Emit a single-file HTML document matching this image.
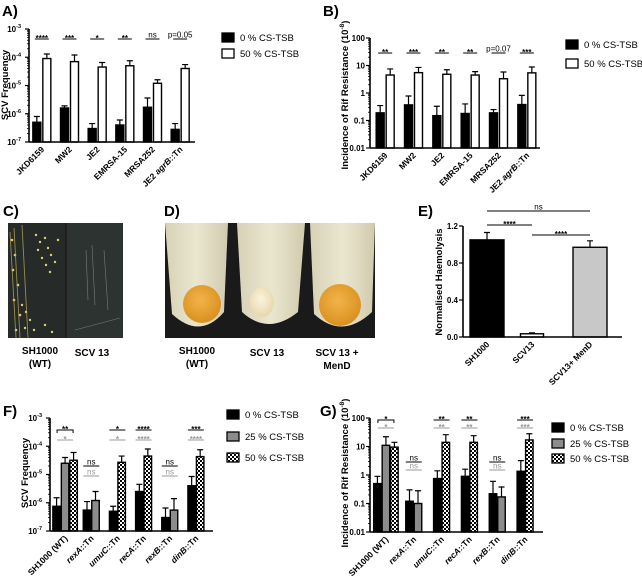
<!DOCTYPE html>
<html><head><meta charset="utf-8">
<style>
html,body{margin:0;padding:0;background:#fff;}
svg{display:block;font-family:"Liberation Sans",Arial,sans-serif;}
.t{font-weight:bold;}
</style></head>
<body>
<svg id="fig" width="642" height="578" viewBox="0 0 642 578" xmlns="http://www.w3.org/2000/svg">
<defs>
<pattern id="chk" width="4" height="4" patternUnits="userSpaceOnUse">
<rect width="4" height="4" fill="#fff"/><rect width="2" height="2" fill="#000"/><rect x="2" y="2" width="2" height="2" fill="#000"/>
</pattern>
<radialGradient id="pel" cx="0.45" cy="0.4" r="0.6"><stop offset="0" stop-color="#f3b34a"/><stop offset="1" stop-color="#d9911f"/></radialGradient>
<radialGradient id="pelw" cx="0.45" cy="0.4" r="0.6"><stop offset="0" stop-color="#fbf3dc"/><stop offset="1" stop-color="#e8d7ad"/></radialGradient>
<linearGradient id="tube" x1="0" x2="1"><stop offset="0" stop-color="#d6d1b6"/><stop offset="0.5" stop-color="#ebe7cf"/><stop offset="1" stop-color="#d0caae"/></linearGradient>
</defs>

<text x="2" y="16" font-size="15" class="t">A)</text>
<text x="323" y="16" font-size="15" class="t">B)</text>
<text x="3" y="216" font-size="15" class="t">C)</text>
<text x="164" y="216" font-size="15" class="t">D)</text>
<text x="418" y="216" font-size="15" class="t">E)</text>
<text x="3" y="416" font-size="15" class="t">F)</text>
<text x="320" y="416" font-size="15" class="t">G)</text>

<g>
<rect x="8" y="223" width="115" height="115" fill="#262b29"/>
<rect x="66" y="223" width="57" height="115" fill="#2d3330"/>
<line x1="66" y1="223" x2="66" y2="338" stroke="#111" stroke-width="1"/>
<g fill="#e3cf72">
<circle cx="12" cy="240" r="1.3"/><circle cx="15" cy="255" r="1.3"/><circle cx="13" cy="270" r="1.3"/><circle cx="18" cy="285" r="1.3"/><circle cx="14" cy="300" r="1.3"/><circle cx="20" cy="315" r="1.3"/><circle cx="16" cy="330" r="1.3"/>
<circle cx="36" cy="235" r="1.2"/><circle cx="40" cy="242" r="1.2"/><circle cx="45" cy="238" r="1.2"/><circle cx="38" cy="250" r="1.2"/><circle cx="48" cy="248" r="1.2"/><circle cx="42" cy="258" r="1.2"/><circle cx="51" cy="255" r="1.2"/><circle cx="46" cy="265" r="1.2"/><circle cx="55" cy="262" r="1.2"/><circle cx="50" cy="272" r="1.2"/><circle cx="58" cy="240" r="1.2"/>
<circle cx="22" cy="305" r="1.2"/><circle cx="26" cy="312" r="1.2"/><circle cx="30" cy="320" r="1.2"/><circle cx="25" cy="328" r="1.2"/><circle cx="34" cy="330" r="1.2"/><circle cx="45" cy="325" r="1.2"/><circle cx="52" cy="332" r="1.2"/>
</g>
<path d="M10 232 L16 338 M22 225 L28 338 M14 228 L20 338" stroke="#c9b55a" stroke-width="0.9" opacity="0.7"/>
<path d="M86 250 L88 300 M92 245 L95 305 M104 250 L108 310 M75 330 L120 318" stroke="#bfc6b8" stroke-width="0.6" opacity="0.5"/>
</g>
<text x="40" y="354" font-size="10" class="t" text-anchor="middle">SH1000</text>
<text x="40" y="367" font-size="10" class="t" text-anchor="middle">(WT)</text>
<text x="92" y="356" font-size="10" class="t" text-anchor="middle">SCV 13</text>

<g>
<rect x="165" y="223" width="210" height="115" fill="#1a1a1a"/>
<path d="M165 223 L228 223 L224 312 Q200 340 172 314 Z" fill="url(#tube)"/>
<path d="M237 223 L305 223 L298 312 Q268 336 242 312 Z" fill="url(#tube)"/>
<path d="M310 223 L375 223 L372 312 Q342 340 314 314 Z" fill="url(#tube)"/>
<ellipse cx="202" cy="304" rx="19" ry="19" fill="url(#pel)"/>
<ellipse cx="262" cy="302" rx="12" ry="15" fill="url(#pelw)"/>
<ellipse cx="340" cy="305" rx="21" ry="21" fill="url(#pel)"/>
</g>
<text x="197" y="354" font-size="10" class="t" text-anchor="middle">SH1000</text>
<text x="197" y="367" font-size="10" class="t" text-anchor="middle">(WT)</text>
<text x="267" y="356" font-size="10" class="t" text-anchor="middle">SCV 13</text>
<text x="337" y="356" font-size="10" class="t" text-anchor="middle">SCV 13 +</text>
<text x="337" y="369" font-size="10" class="t" text-anchor="middle">MenD</text>

<g id="charts"></g>
</svg>
<script>
// ---------- Panel A data ----------
const aCategories = ["JKD6159","MW2","JE2","EMRSA-15","MRSA252","JE2 agrB::Tn"];
const aSeries0 = [5e-7,1.6e-6,3e-7,4e-7,1.7e-6,2.8e-7];
const aSeries0Err = [8e-7,1.9e-6,4.5e-7,6e-7,3.6e-6,4.5e-7];
const aSeries50 = [9e-5,7e-5,4.5e-5,5e-5,1.2e-5,4e-5];
const aSeries50Err = [1.3e-4,1.2e-4,6.5e-5,7.5e-5,1.6e-5,5.5e-5];
const aSig = ["****","***","*","**","ns","p=0.05"];
const aTickExp = [-7,-6,-5,-4,-3];
// ---------- Panel B data ----------
const bCategories = ["JKD6159","MW2","JE2","EMRSA-15","MRSA252","JE2 agrB::Tn"];
const bSeries0 = [0.19,0.37,0.15,0.18,0.19,0.38];
const bSeries0Err = [0.35,0.78,0.33,0.4,0.25,0.82];
const bSeries50 = [4.5,5.5,4.8,4.5,3.3,5.4];
const bSeries50Err = [7.5,8.5,7,6,5.8,8.8];
const bSig = ["**","***","**","**","p=0.07","***"];
const bTickLabels = ["0.01","0.1","1","10","100"];
// ---------- Panel E data ----------
const eCategories = ["SH1000","SCV13","SCV13+ MenD"];
const eValues = [1.05,0.035,0.97];
const eErr = [1.13,0.045,1.04];
const eTickLabels = ["0.0","0.4","0.8","1.2"];
const eTickVals = [0,0.4,0.8,1.2];
// ---------- Panel F data ----------
const fCategories = ["SH1000 (WT)","rexA::Tn","umuC::Tn","recA::Tn","rexB::Tn","dinB::Tn"];
const fSeries0 = [7.5e-7,5.5e-7,5e-7,2.5e-6,3e-7,4e-6];
const fSeries0Err = [1.5e-6,1.1e-6,7.5e-7,4.5e-6,6.5e-7,8.5e-6];
const fSeries25 = [2.5e-5,1.2e-6,null,null,5.5e-7,null];
const fSeries25Err = [4e-5,2.5e-6,null,null,1.4e-6,null];
const fSeries50 = [3.2e-5,null,2.7e-5,4.5e-5,null,4.3e-5];
const fSeries50Err = [6e-5,null,4.5e-5,8e-5,null,7.5e-5];
const fSigBlack = ["**","ns","*","****","ns","***"];
const fSigGray = ["*","ns","*","****","ns","****"];
const fTickExp = [-7,-6,-5,-4,-3];
// ---------- Panel G data ----------
const gCategories = ["SH1000 (WT)","rexA::Tn","umuC::Tn","recA::Tn","rexB::Tn","dinB::Tn"];
const gSeries0 = [0.5,0.12,0.75,0.9,0.22,1.35];
const gSeries0Err = [0.9,0.3,1.4,1.6,0.6,3.2];
const gSeries25 = [11,0.1,null,null,0.17,null];
const gSeries25Err = [22,0.28,null,null,0.38,null];
const gSeries50 = [9.5,null,14,14,null,17];
const gSeries50Err = [14,null,26,24,null,28];
const gSigBlack = ["*","ns","**","**","ns","***"];
const gSigGray = ["*","ns","**","**","ns","***"];
const gTickLabels = ["0.01","0.1","1","10","100"];

const NS="http://www.w3.org/2000/svg";
const root=document.getElementById('charts');
function mk(tag,attrs,parent,txt){const e=document.createElementNS(NS,tag);for(const k in attrs)e.setAttribute(k,attrs[k]);if(txt!==undefined)e.textContent=txt;(parent||root).appendChild(e);return e;}
function logScale(min,max,yb,yt){return v=>yb-(Math.log10(v)-Math.log10(min))/(Math.log10(max)-Math.log10(min))*(yb-yt);}
function linScale(min,max,yb,yt){return v=>yb-(v-min)/(max-min)*(yb-yt);}

function axes(g,x0,x1,yb,yt){
  const l=mk('line',{x1:x0,y1:yt,x2:x0,y2:yb,stroke:'#000','stroke-width':1.6},g);
  
  
  const b=mk('line',{x1:x0,y1:yb,x2:x1,y2:yb,stroke:'#000','stroke-width':1.6},g);
  
  
}
function logTicks(g,x0,sc,decMin,decMax,labelFn){
  for(let d=decMin;d<=decMax;d++){
    const y=sc(Math.pow(10,d));
    mk('line',{x1:x0-4,y1:y,x2:x0,y2:y,stroke:'#000','stroke-width':1.2},g);
    labelFn(d,y);
    if(d<decMax){for(let m=2;m<=9;m++){const ym=sc(m*Math.pow(10,d));mk('line',{x1:x0-2,y1:ym,x2:x0,y2:ym,stroke:'#000','stroke-width':0.8},g);}}
  }
}
function expLabel(g,x0,d,y){
  const t=mk('text',{x:x0-8,y:y+3,'font-size':8,'text-anchor':'end','font-weight':'bold'},g);
  
  
  mk('tspan',{},t,'10');
  mk('tspan',{dy:-4,'font-size':5.5},t,String(d));
}
function numLabel(g,x0,txt,y){
  const t=mk('text',{x:x0-5,y:y+3,'font-size':8,'text-anchor':'end','font-weight':'bold'},g,txt);
  
  
}
function bar(g,x,w,yTop,yb,fill,name){
  const r=mk('rect',{x:x,y:yTop,width:w,height:Math.max(0,yb-yTop),fill:fill,stroke:'#000','stroke-width':1.4},g);
  
  
}
function err(g,cx,yTop,yErr){
  const p=mk('path',{d:`M${cx} ${yTop} L${cx} ${yErr} M${cx-3} ${yErr} L${cx+3} ${yErr}`,stroke:'#000','stroke-width':1.2,fill:'none'},g);
  
  
}
function xLabel(g,cx,yb,txt){
  const t=mk('text',{x:cx+3,y:yb+8,'font-size':8.5,'font-weight':'bold','text-anchor':'end',transform:`rotate(-45 ${cx+3} ${yb+8})`},g);
  
  
  const m=txt.match(/^(.*?)(\S+)(::Tn)$/);
  if(txt.indexOf('agrB')>=0){mk('tspan',{},t,'JE2 ');mk('tspan',{'font-style':'italic'},t,'agrB');mk('tspan',{},t,'::Tn');}
  else if(m){mk('tspan',{'font-style':'italic'},t,m[2]);mk('tspan',{},t,m[3]);}
  else t.textContent=txt;
}
function sig(g,x1,x2,y,txt,color,bracket){
  const p=mk('path',{d:bracket?`M${x1} ${y+3} L${x1} ${y} L${x2} ${y} L${x2} ${y+3}`:`M${x1} ${y} L${x2} ${y}`,stroke:color,'stroke-width':1,fill:'none'},g);
  
  
  const star=txt.indexOf('*')>=0;
  const t=mk('text',{x:(x1+x2)/2,y:star?y+2:y-1.5,'font-size':8,'text-anchor':'middle','font-weight':star?'bold':'normal',fill:color},g,txt);
  
  
  return [p,t];
}
function yTitle(g,x,y,parts){
  const t=mk('text',{x:x,y:y,'font-size':9.5,'font-weight':'bold','text-anchor':'middle',transform:`rotate(-90 ${x} ${y})`},g);
  
  
  parts.forEach(p=>mk('tspan',p.sup?{dy:-4,'font-size':6.5}:(p.down?{dy:4}:{}),t,p.t));
}
function legend(g,x,ys,fills,labels){
  ys.forEach((y,i)=>{
    const e=mk('g',{},g);
    
    
    mk('rect',{x:x,y:y-4,width:12,height:9,fill:fills[i],stroke:'#000','stroke-width':1.3},e);
    mk('text',{x:x+18,y:y+4,'font-size':9.5},e,labels[i]);
  });
}

(function(){
  const g=mk('g',{});
  const x0=29,x1=195,yb=142,yt=29,sc=logScale(1e-7,1e-3,yb,yt);
  const step=(x1-x0)/aCategories.length, w=8;
  aCategories.forEach((c,i)=>{
    const cx=x0+step*(i+0.5)-1;
    bar(g,cx-w-1,w,sc(aSeries0[i]),yb,'#000','bar-0pct');
    err(g,cx-w/2-1,sc(aSeries0[i]),sc(aSeries0Err[i]));
    bar(g,cx+1,w,sc(aSeries50[i]),yb,'#fff','bar-50pct');
    err(g,cx+w/2+1,sc(aSeries50[i]),sc(aSeries50Err[i]));
    xLabel(g,cx,yb,c);
    sig(g,cx-7,cx+7,39,aSig[i],'#000',false);
  });
  axes(g,x0,x1,yb,yt);
  logTicks(g,x0,sc,aTickExp[0],aTickExp[aTickExp.length-1],(d,y)=>expLabel(g,x0,d,y));
  yTitle(g,8,85,[{t:'SCV Frequency'}]);
  legend(g,222,[37,53],['#000','#fff'],['0 % CS-TSB','50 % CS-TSB']);
})();

(function(){
  const g=mk('g',{});
  const x0=370,x1=540,yb=148,yt=38,sc=logScale(0.01,100,yb,yt);
  const step=(x1-x0)/bCategories.length, w=8;
  bCategories.forEach((c,i)=>{
    const cx=x0+step*(i+0.5)+1;
    bar(g,cx-w-1,w,sc(bSeries0[i]),yb,'#000','bar-0pct');
    err(g,cx-w/2-1,sc(bSeries0[i]),sc(bSeries0Err[i]));
    bar(g,cx+1,w,sc(bSeries50[i]),yb,'#fff','bar-50pct');
    err(g,cx+w/2+1,sc(bSeries50[i]),sc(bSeries50Err[i]));
    xLabel(g,cx,yb,c);
    sig(g,cx-7,cx+7,53,bSig[i],'#000',false);
  });
  axes(g,x0,x1,yb,yt);
  logTicks(g,x0,sc,-2,2,(d,y)=>numLabel(g,x0,bTickLabels[d+2],y));
  yTitle(g,348,95,[{t:'Incidence of Rif Resistance (10'},{t:'-8',sup:true},{t:')',down:true}]);
  legend(g,566,[44,63],['#000','#fff'],['0 % CS-TSB','50 % CS-TSB']);
})();

(function(){
  const g=mk('g',{});
  const x0=463,x1=622,yb=337,yt=226,sc=linScale(0,1.2,yb,yt);
  const centers=[487,532,590], w=[34,23,34];
  const fills=['#000','#fff','#c8c8c8'];
  eCategories.forEach((c,i)=>{
    bar(g,centers[i]-w[i]/2,w[i],sc(eValues[i]),yb,fills[i],'bar-'+c.replace(/\W+/g,'-').toLowerCase());
    err(g,centers[i],sc(eValues[i]),sc(eErr[i]));
    xLabel(g,centers[i],yb,c);
  });
  axes(g,x0,x1,yb,yt);
  eTickVals.forEach((v,i)=>{const y=sc(v);mk('line',{x1:x0-4,y1:y,x2:x0,y2:y,stroke:'#000','stroke-width':1.2},g);numLabel(g,x0,eTickLabels[i],y);});
  sig(g,centers[0],centers[2],211,'ns','#000',false);
  sig(g,centers[0],centers[1],225,'****','#000',false);
  sig(g,centers[1],centers[2],235,'****','#000',false);
  yTitle(g,442,282,[{t:'Normalised Haemolysis'}]);
})();

function triple(name,x0,x1,yb,yt,sc,cats,s0,e0,s25,e25,s50,e50,sb,sgr,yS1,yS2,nsOff){
  const g=mk('g',{});
  const step=(x1-x0-6)/cats.length, w=7.5;
  cats.forEach((c,i)=>{
    const cx=x0+step*(i+0.5)+2;
    const list=[[s0,e0,'#000','bar-0pct'],[s25,e25,'#8c8c8c','bar-25pct'],[s50,e50,'url(#chk)','bar-50pct']].filter(s=>s[0][i]!==null);
    const tot=list.length*w+(list.length-1)*1;
    list.forEach((s,k)=>{
      const bx=cx-tot/2+k*(w+1);
      bar(g,bx,w,sc(s[0][i]),yb,s[2],s[3]);
      err(g,bx+w/2,sc(s[0][i]),sc(s[1][i]));
    });
    xLabel(g,cx,yb,c);
    const off=(sb[i]==='ns')?nsOff:0;
    sig(g,cx-8,cx+8,yS1+off,sb[i],'#000',i===0);
    sig(g,cx-8,cx+8,yS2+off,sgr[i],'#999',false);
  });
  axes(g,x0,x1,yb,yt);
  return g;
}
(function(){
  const x0=50,sc=logScale(1e-7,1e-3,531,418);
  const g=triple('chart-f',x0,213,531,418,sc,fCategories,fSeries0,fSeries0Err,fSeries25,fSeries25Err,fSeries50,fSeries50Err,fSigBlack,fSigGray,430,440,36);
  logTicks(g,x0,sc,fTickExp[0],fTickExp[fTickExp.length-1],(d,y)=>expLabel(g,x0,d,y));
  yTitle(g,28,473,[{t:'SCV Frequency'}]);
  legend(g,227,[414,436,457],['#000','#8c8c8c','url(#chk)'],['0 % CS-TSB','25 % CS-TSB','50 % CS-TSB']);
})();
(function(){
  const x0=370,sc=logScale(0.01,100,532,418);
  const g=triple('chart-g',x0,543,532,418,sc,gCategories,gSeries0,gSeries0Err,gSeries25,gSeries25Err,gSeries50,gSeries50Err,gSigBlack,gSigGray,420,428,42);
  logTicks(g,x0,sc,-2,2,(d,y)=>numLabel(g,x0,gTickLabels[d+2],y));
  yTitle(g,348,473,[{t:'Incidence of Rif Resistance (10'},{t:'-8',sup:true},{t:')',down:true}]);
  legend(g,552,[427,443,458],['#000','#8c8c8c','url(#chk)'],['0 % CS-TSB','25 % CS-TSB','50 % CS-TSB']);
})();
</script>
</body></html>
